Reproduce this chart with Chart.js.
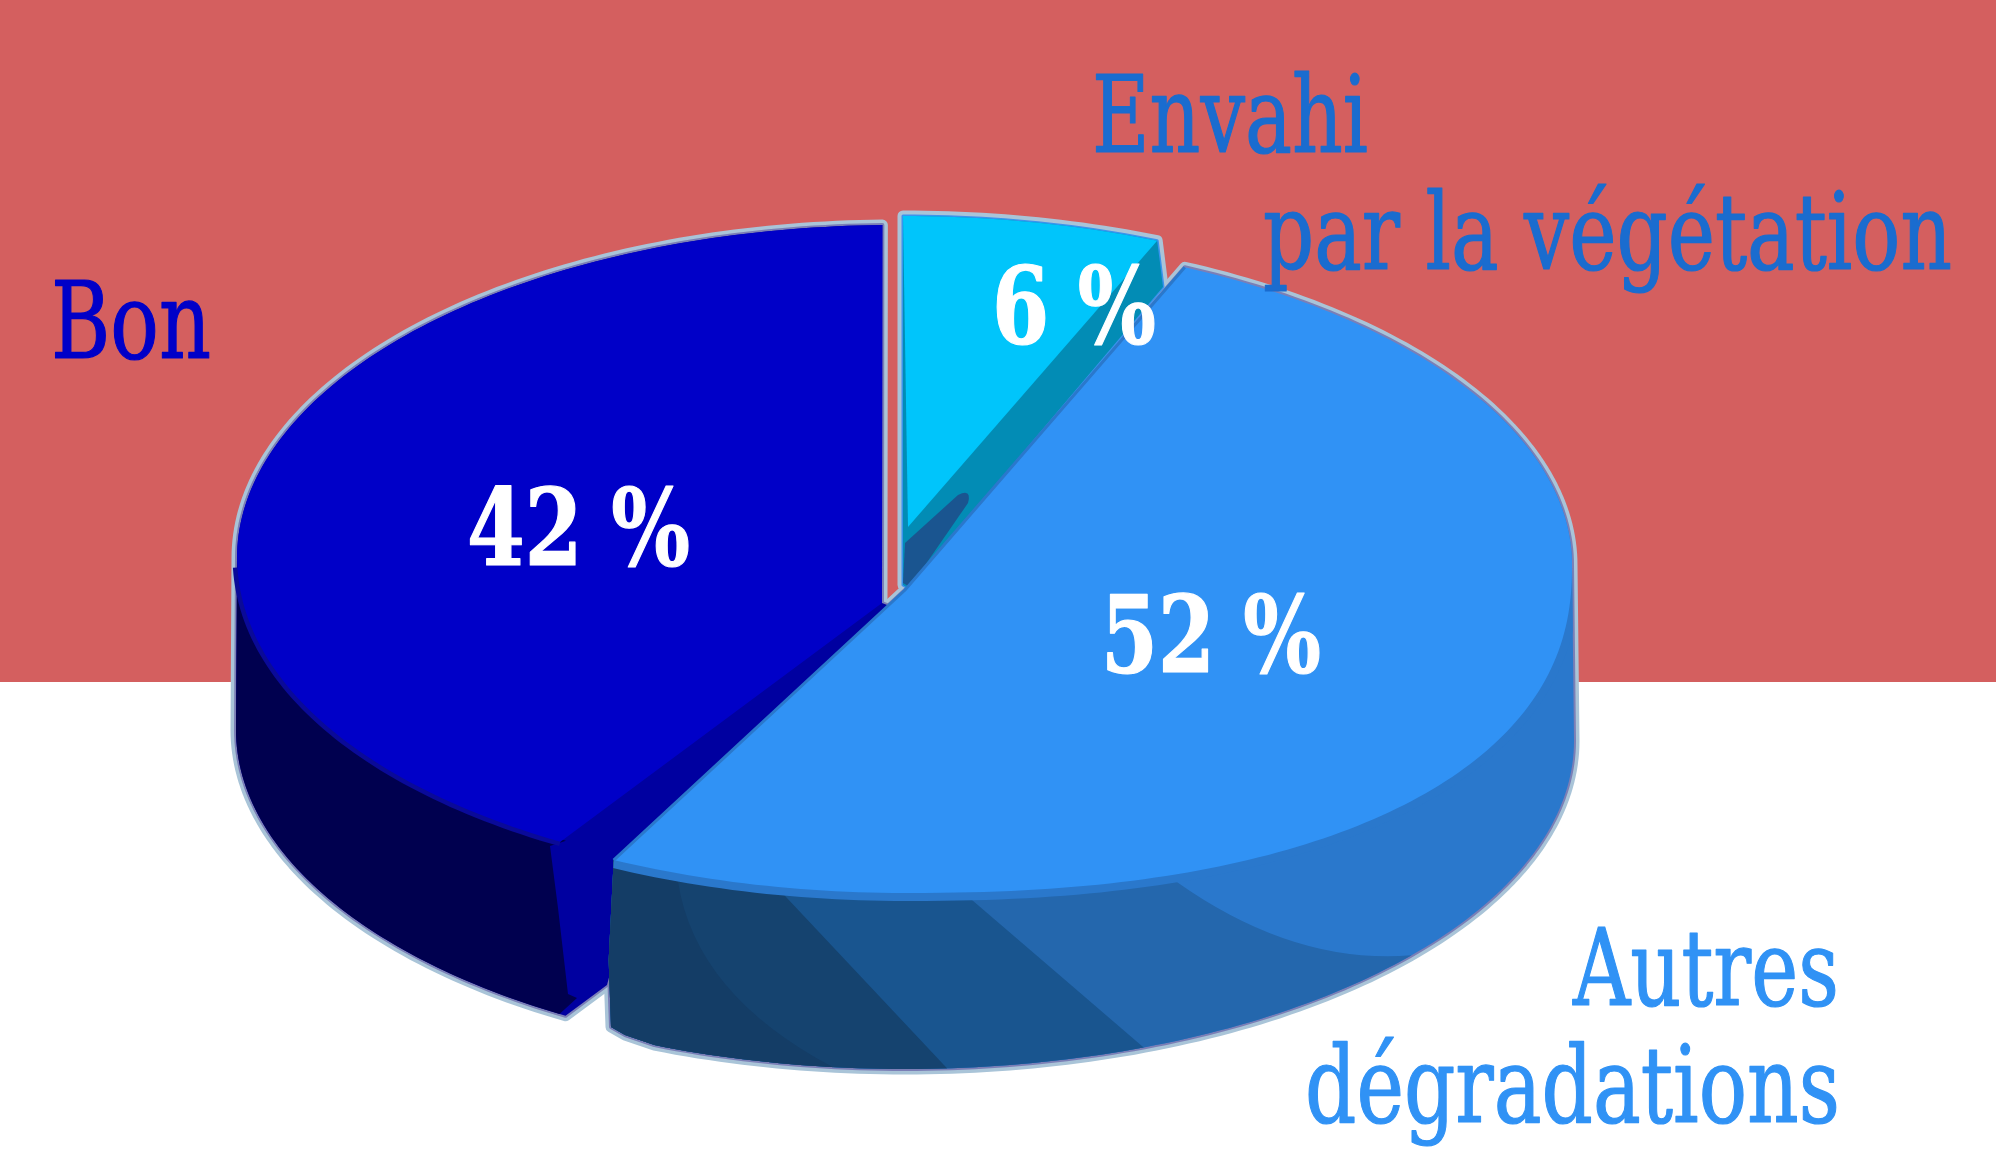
<!DOCTYPE html>
<html><head><meta charset="utf-8">
<style>html,body{margin:0;padding:0;background:#fff}canvas{display:block}</style>
<script src="https://cdn.jsdelivr.net/npm/chart.js@4"></script>
</head><body><canvas id="c" width="1996" height="1151"></canvas>
<script>
const categories = ['Envahi par la végétation', 'Autres dégradations', 'Bon'];
const values = [6, 52, 42];
const sliceColors = ['#00c5fb', '#3092f5', '#0000c8'];
const nameLines = [['Envahi', 'par la végétation'], ['Autres', 'dégradations'], ['Bon']];

const D = Math.PI / 180;
function pt(g, phi, p) {
  p = p || 2;
  const s = Math.sin(phi), c = Math.cos(phi);
  return [g.cx + g.rx * Math.sign(s) * Math.pow(Math.abs(s), 2 / p),
          g.cy - g.ry * Math.sign(c) * Math.pow(Math.abs(c), 2 / p)];
}
function arc(g, a, b, pf) {
  const out = [], n = Math.max(2, Math.ceil(Math.abs(b - a) / D));
  for (let i = 0; i <= n; i++) { const t = a + (b - a) * i / n; out.push(pt(g, t, pf ? pf(t) : 2)); }
  return out;
}
function path(ctx, pts) {
  ctx.beginPath();
  pts.forEach((q, i) => i ? ctx.lineTo(q[0], q[1]) : ctx.moveTo(q[0], q[1]));
  ctx.closePath();
}
function open(ctx, pts) {
  ctx.beginPath();
  pts.forEach((q, i) => i ? ctx.lineTo(q[0], q[1]) : ctx.moveTo(q[0], q[1]));
}

const blueP = t => (t >= 90 * D && t <= 180 * D) ? 2.3 : 2;

const pie3d = {
  id: 'pie3d',
  beforeDraw(chart) {
    const { ctx, width, height } = chart;
    ctx.fillStyle = '#ffffff'; ctx.fillRect(0, 0, width, height);
    ctx.fillStyle = '#d45f5f'; ctx.fillRect(0, 0, width, 682);
  },
  beforeDatasetDraw(chart) {
    const ctx = chart.ctx, arcs = chart.getDatasetMeta(0).data;
    const phi = (a, i, trim) => a.map((v, k) => v + trim[k] * D);
    const ang = i => [arcs[i].startAngle + Math.PI / 2, arcs[i].endAngle + Math.PI / 2];

    // ---- angular ranges of the slices, from Chart.js arc elements
    const [c0, c1] = phi(ang(0), 0, [0, 0.8]);
    const [b0, b1] = phi(ang(1), 1, [3.2, -2.9]);
    const [n0, n1] = phi(ang(2), 2, [1.2, -1.1]);

    const cT = { cx: 903, cy: 544, rx: 667, ry: 328 };
    const bT = { cx: 905, cy: 565, rx: 667, ry: 328 };
    const bB = { cx: 905, cy: 741, rx: 669, ry: 328 };
    const nT = { cx: 895, cy: 558, rx: 658, ry: 333 };
    const nL = { cx: 895, cy: 555, rx: 658, ry: 330 };
    const nB = { cx: 895, cy: 730, rx: 659, ry: 330 };

    const cA = [908, 527], bA = [905, 590], nA = [882, 603];
    const bEnd = pt(bT, b1);

    const nTop = [...arc(nT, n1, 270 * D), ...arc(nL, 270 * D, n0, () => 2.05)];
    const cOut = [[903, 585], ...arc(cT, c0, c1), [1163, 287], [908, 588]];
    const bOut = [bA, ...arc(bT, b0, 90 * D), ...arc(bB, 90 * D, 202 * D), [625, 1035], [611, 1027], [bEnd[0] - 5, bEnd[1] + 100], bEnd];
    const nOut = [nA, ...arc(nT, n1, 270 * D), ...arc(nB, 270 * D, n0), [607, 985], [640, 860], [900, 610]];

    // ---- pale outline under everything
    ctx.save();
    ctx.lineJoin = 'round';
    for (const o of [cOut, nOut, bOut]) {
      path(ctx, o); ctx.strokeStyle = '#a9c4d8'; ctx.lineWidth = 11; ctx.stroke();
    }
    for (const o of [nOut, bOut]) {
      path(ctx, o); ctx.strokeStyle = '#7b7fb6'; ctx.lineWidth = 4; ctx.stroke();
    }
    path(ctx, cOut); ctx.strokeStyle = '#3a93ee'; ctx.lineWidth = 3; ctx.stroke();
    ctx.restore();

    // ---- slice 0, back
    path(ctx, cOut); ctx.fillStyle = '#028cb5'; ctx.fill();
    ctx.beginPath();
    ctx.moveTo(905, 543);
    ctx.lineTo(958, 495);
    ctx.quadraticCurveTo(972, 488, 968, 503);
    ctx.lineTo(910, 587); ctx.lineTo(903, 583); ctx.closePath();
    ctx.fillStyle = '#1a5590'; ctx.fill();
    path(ctx, [cA, ...arc(cT, c0, c1)]);
    ctx.fillStyle = sliceColors[0]; ctx.fill();

    // ---- slice 2, side, cut face, top
    path(ctx, nOut); ctx.fillStyle = '#0000a0'; ctx.fill();
    path(ctx, [...arc(nB, 270 * D, n0 + 0.6 * D), [577, 998], [568, 994], [558, 908], [550, 846], ...arc(nL, n0, 270 * D)]);
    ctx.fillStyle = '#00004f'; ctx.fill();
    open(ctx, arc(nL, 268 * D, n0, () => 2.05));
    ctx.strokeStyle = '#0a0a98'; ctx.lineWidth = 9; ctx.stroke();
    path(ctx, [nA, ...nTop]);
    ctx.fillStyle = sliceColors[2]; ctx.fill();

    // ---- slice 1, side with shading steps
    ctx.save();
    path(ctx, bOut); ctx.clip();
    ctx.fillStyle = '#2a78cc'; ctx.fillRect(200, 400, 1500, 751);
    const steps = [
      { col: '#2467ad', top: 159.1, bot: 130.8, bx: 0, by: 23 },
      { col: '#19558f', top: 175.9, bot: 159.1, bx: 0, by: 0 },
      { col: '#15436f', top: 190.4, bot: 176.4, bx: 0, by: 0 },
      { col: '#143d66', top: 199.9, bot: 186.2, bx: -30, by: 10 }
    ];
    for (const s of steps) {
      const a = pt(bT, s.top * D, blueP(s.top * D)), z = pt(bB, s.bot * D);
      a[1] += 8;
      ctx.beginPath();
      ctx.moveTo(a[0], a[1] - 40);
      ctx.lineTo(a[0], a[1]);
      ctx.quadraticCurveTo((a[0] + z[0]) / 2 + s.bx * 2, (a[1] + z[1]) / 2 + s.by * 2, z[0], z[1]);
      ctx.lineTo(z[0], 1151); ctx.lineTo(400, 1151); ctx.lineTo(400, 700);
      ctx.closePath();
      ctx.fillStyle = s.col; ctx.fill();
    }
    open(ctx, arc(bT, 90 * D, b1, blueP));
    ctx.strokeStyle = '#2a78cc'; ctx.lineWidth = 16; ctx.stroke();
    ctx.restore();

    path(ctx, [bA, ...arc(bT, b0, b1, blueP)]);
    ctx.fillStyle = sliceColors[1]; ctx.fill();
    open(ctx, [bEnd, bA, pt(bT, b0)]);
    ctx.strokeStyle = '#2a78cc'; ctx.lineWidth = 3; ctx.stroke();
    return false;
  },
  afterDraw(chart) {
    const ctx = chart.ctx;
    ctx.save();
    ctx.textBaseline = 'alphabetic';
    ctx.textAlign = 'left';
    ctx.lineJoin = 'round';
    const FAM = '"DejaVu Serif Condensed", "DejaVu Serif", serif';
    if ('fontStretch' in ctx) ctx.fontStretch = 'condensed';
    const text = (s, x, y, w, col, bold) => {
      ctx.font = (bold ? 'bold ' : '') + '107px ' + FAM;
      ctx.fillStyle = col; ctx.strokeStyle = col; ctx.lineWidth = 1.2;
      const sx = w / ctx.measureText(s).width;
      ctx.save(); ctx.translate(x, y); ctx.scale(sx, 1);
      ctx.fillText(s, 0, 0);
      ctx.strokeText(s, 0, 0);
      ctx.restore();
    };
    text(nameLines[0][0], 1092, 152, 276, '#1a6ccf');
    text(nameLines[0][1], 1263, 269, 689, '#1a6ccf');
    text(nameLines[1][0], 1573, 1005, 266, '#3092f5');
    text(nameLines[1][1], 1305, 1122, 535, '#3092f5');
    text(nameLines[2][0], 51, 358, 160, '#0000c8');
    text(values[0] + ' %', 992, 343, 164, '#ffffff', true);
    text(values[1] + ' %', 1101, 672, 220, '#ffffff', true);
    text(values[2] + ' %', 467, 565, 223, '#ffffff', true);
    ctx.restore();
  }
};

new Chart(document.getElementById('c'), {
  type: 'pie',
  data: { labels: categories, datasets: [{ data: values, backgroundColor: sliceColors, borderWidth: 0 }] },
  options: {
    responsive: false, animation: false,
    plugins: { legend: { display: false }, tooltip: { enabled: false } }
  },
  plugins: [pie3d]
});
</script></body></html>
